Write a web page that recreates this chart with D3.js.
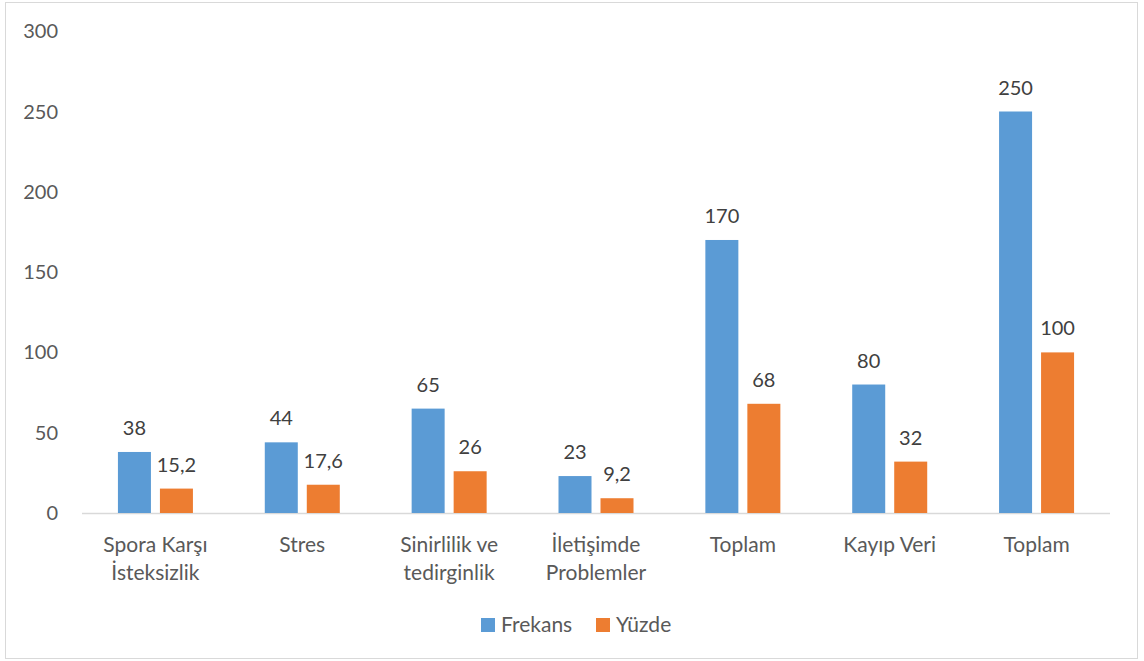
<!DOCTYPE html>
<html><head><meta charset="utf-8">
<script src="https://cdn.jsdelivr.net/npm/d3@7"></script>
<style>body{margin:0;background:#fff}text{font-family:Lato,"Open Sans",sans-serif}</style>
</head><body><svg id="c" width="1144" height="661"></svg>
<script>
const categories = [["Spora Karşı","İsteksizlik"],["Stres"],["Sinirlilik ve","tedirginlik"],["İletişimde","Problemler"],["Toplam"],["Kayıp Veri"],["Toplam"]];
const frekans = [38,44,65,23,170,80,250];
const yuzde = [15.2,17.6,26,9.2,68,32,100];
const yuzdeLabels = ["15,2","17,6","26","9,2","68","32","100"];
const yTicks = [0,50,100,150,200,250,300];
const seriesNames = ["Frekans","Yüzde"];
const colors = ["#5b9bd5","#ed7d31"];

const svg = d3.select("#c");
svg.append("rect").attr("x",5.5).attr("y",2.5).attr("width",1132).attr("height",656).attr("fill","#fff").attr("stroke","#d9d9d9");
const x = d3.scaleBand().domain(d3.range(categories.length)).range([82,1110]);
const y = d3.scaleLinear().domain([0,300]).range([513,31.2]);
const barW = 33, gap = 9;
const textColor = "#595959";
const fs = 20, fsc = 21;

svg.selectAll(".yt").data(yTicks).enter().append("text")
  .attr("x",58).attr("y",d=>y(d)).attr("dy","0.35em").attr("text-anchor","end")
  .attr("font-size",fs).attr("fill",textColor).text(d=>d);

svg.append("line").attr("x1",82).attr("x2",1110).attr("y1",y(0)+0.5).attr("y2",y(0)+0.5).attr("stroke","#d9d9d9").attr("stroke-width",1.5);

const data = [frekans, yuzde];
data.forEach((arr,si)=>{
  const off = si===0 ? -(gap/2+barW) : gap/2;
  svg.selectAll(".b"+si).data(arr).enter().append("rect")
    .attr("x",(d,i)=>x(i)+x.bandwidth()/2+off).attr("width",barW)
    .attr("y",d=>y(d)).attr("height",d=>y(0)-y(d)).attr("fill",colors[si]);
  svg.selectAll(".l"+si).data(arr).enter().append("text")
    .attr("x",(d,i)=>x(i)+x.bandwidth()/2+off+barW/2).attr("y",d=>y(d)-17)
    .attr("text-anchor","middle").attr("font-size",fs).attr("fill","#404040")
    .text((d,i)=> si===0 ? d : yuzdeLabels[i]);
});

categories.forEach((lines,i)=>{
  const t = svg.append("text").attr("x",x(i)+x.bandwidth()/2).attr("y",552)
    .attr("text-anchor","middle").attr("font-size",fsc).attr("fill",textColor);
  lines.forEach((l,j)=>t.append("tspan").attr("x",x(i)+x.bandwidth()/2).attr("dy",j===0?0:28).text(l));
});

const leg = [{x:481,tx:501},{x:596,tx:616}];
seriesNames.forEach((n,i)=>{
  svg.append("rect").attr("x",leg[i].x).attr("y",618).attr("width",14).attr("height",14).attr("fill",colors[i]);
  svg.append("text").attr("x",leg[i].tx).attr("y",625).attr("dy","0.35em").attr("font-size",fsc).attr("fill",textColor).text(n);
});
</script></body></html>
